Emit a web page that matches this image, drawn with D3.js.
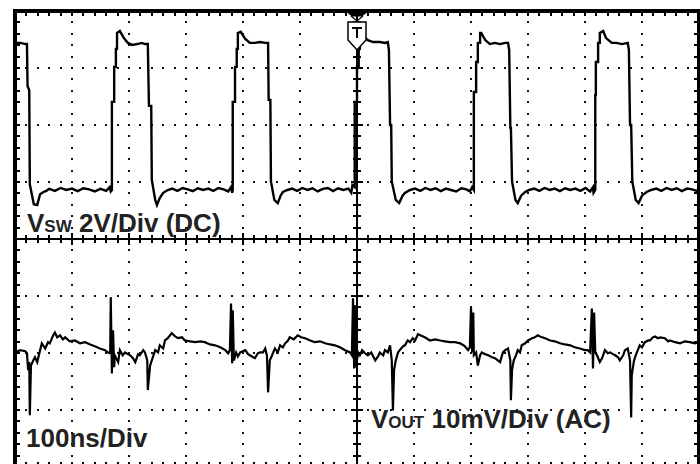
<!DOCTYPE html>
<html>
<head>
<meta charset="utf-8">
<script src="https://cdn.jsdelivr.net/npm/d3@7"></script>
<style>
  body { margin: 0; background: #fff; }
  svg { display: block; }
</style>
</head>
<body>
<div id="vis"></div>
<script>
// scope capture: switch node (top, 2V/div DC) and output ripple (bottom, 10mV/div AC), 100ns/div

// channel settings
var SW_VDIV = 2;      // V per div
var SW_POS = 0.86;    // ground marker position, div above centre
var OUT_VDIV = 10;    // mV per div
var OUT_POS = -1.9;   // trace position, div above centre

// graticule
var timeDomain = [-600, 600];   // ns, 12 div of 100ns, trigger at 0
var divDomain = [-4, 4];

// labels
var labelSw = ['V', 'SW', ' 2V/Div (DC)'];
var labelOut = ['V', 'OUT', ' 10mV/Div (AC)'];
var labelTime = '100ns/Div';

// V_SW trace [ns, V]
var swT = [-600,-590,-582,-579,-578,-575,-574,-567,-561,-556,-550,-545,
  -540,-530,-520,-510,-500,-490,-480,-470,-460,-450,-440,-434,-432,
  -430,-430,-426,-426,-423,-423,-421,-421,-416,-409,-402,-395,-385,-378,-372,-367,-365,-361,-360,-354,-351,-346,-340,-332,
  -324,-315,-306,-297,-288,-279,-270,-261,-252,-243,-234,-226,-221,-219,
  -218,-218,-214,-214,-211,-211,-209,-209,-204,-196,-188,-179,-170,-161,-156,-155,-152,-151,-145,-139,-134,-130,-122,
  -114,-105,-96,-87,-78,-69,-60,-51,-42,-33,-24,-15,-10,-8,
  -4,-4,0,0,3,3,5,5,9,14,19,28,40,49,54,56,58,60,61,68,74,80,84,93,
  102,111,120,129,138,147,156,165,174,183,192,198,202,
  205,205,209,209,212,212,216,216,218,225,233,242,251,260,265,267,269,270,272,278,282,288,295,302,
  311,320,329,338,347,356,365,374,383,392,401,409,414,415,
  418,418,419,419,423,423,426,426,432,437,447,455,465,475,477,479,481,483,489,494,500,508,516,
  525,534,543,552,561,570,579,588,596,600];
var swV = [5.16,5.16,5.12,5.12,3.65,3.5,0.2,-0.5,-0.53,-0.15,-0.07,-0.03,
  0.04,-0.03,0.07,0.0,0.05,-0.04,0.06,0.02,-0.05,0.04,-0.03,0.1,-0.05,
  0,3.09,3.09,4.32,4.32,4.95,4.95,5.51,5.58,5.33,5.16,5.09,5.12,5.16,5.12,5.12,2.95,2.95,0.35,-0.35,-0.53,-0.28,-0.1,0.0,
  0.05,-0.03,0.07,0.02,-0.04,0.06,0.0,0.05,-0.03,0.07,0.02,-0.05,0.1,-0.1,
  0,3.09,3.09,4.32,4.32,4.95,4.95,5.51,5.55,5.3,5.16,5.16,5.19,5.16,5.16,3.16,3.16,0.3,-0.35,-0.46,-0.2,-0.07,0.0,
  0.05,-0.03,0.07,0.0,0.06,-0.05,0.04,0.07,-0.04,0.06,0.0,0.05,-0.1,0.17,
  0.1,3.09,3.09,4.32,4.32,4.95,4.95,5.44,5.44,5.33,5.26,5.19,5.19,5.16,5.19,4.91,2.28,2.28,0.3,-0.35,-0.46,-0.2,-0.1,0.0,
  0.05,-0.03,0.07,0.0,0.06,-0.04,0.05,0.0,-0.05,0.06,0.02,-0.05,0.1,
  0,3.44,3.44,4.49,4.49,5.16,5.16,5.51,5.51,5.26,5.12,5.16,5.12,5.16,5.16,4.91,2.18,2.18,0.3,-0.35,-0.46,-0.2,-0.07,0.0,
  0.05,-0.03,0.07,0.0,0.05,-0.04,0.06,0.0,0.05,-0.03,0.07,-0.05,0.1,-0.1,
  0,3.33,3.33,4.49,4.49,5.16,5.16,5.51,5.58,5.33,5.16,5.16,5.12,5.16,4.91,2.28,2.28,0.3,-0.35,-0.46,-0.2,-0.07,0.0,
  0.05,-0.03,0.07,0.0,0.06,-0.04,0.05,0.02,-0.03,0.03];

// V_OUT trace [ns, mV]
var outT = [-600,-591,-582,-579,-577,-575,-574,-572,-568,-565,-561,-556,-553,-547,-542,-539,-533,-530,-526,-521,-516,-512,
  -504,-495,-486,-477,-468,-460,-451,-442,-437,-433,-432,-430,-428,-426,-425,-419,-416,-411,-407,-398,-393,-389,-384,-381,
  -375,-372,-368,-367,-363,-360,-354,-349,-346,-340,-337,-332,-325,-319,-314,-307,-302,-293,-284,-275,-267,-258,-249,-240,
  -231,-226,-223,-221,-219,-218,-216,-212,-209,-205,-196,-191,-188,-182,-179,-174,-170,-165,-161,-158,-156,-153,-149,-144,
  -139,-135,-130,-126,-121,-118,-111,-104,-98,-91,-82,-74,-65,-56,-47,-39,-30,-21,-12,-9,-7,-5,-4,-2,
  2,5,9,14,19,25,32,37,40,46,49,54,58,61,63,65,68,72,75,81,84,89,93,98,102,107,111,119,128,137,146,154,163,172,181,189,195,198,
  200,202,204,205,209,212,216,219,225,230,237,242,247,251,256,260,265,269,270,272,275,279,282,286,289,295,300,307,312,317,321,
  330,339,347,356,365,374,382,391,400,405,409,412,414,416,418,421,426,430,435,440,444,449,453,458,461,467,470,475,479,481,482,
  486,489,491,496,500,505,511,514,519,523,528,532,540,546,549,558,567,575,584,593,600];
var outV = [-0.9,-0.5,-0.7,-1.05,-4.0,-2.6,-11.9,-3.2,-2.3,-1.75,-2.6,-0.5,0.7,-0.2,0.9,0.7,2.1,2.6,1.75,2.1,1.4,1.75,
  1.05,1.2,0.7,0.9,0.5,0.2,-0.2,-0.5,-0.9,-1.05,8.8,-4.6,3.0,-3.5,-1.4,-2.6,-0.5,-1.4,-0.9,-1.4,-1.9,-2.6,-1.2,-1.4,
  -0.5,-0.9,-2.3,-7.5,-3.2,-2.3,-0.5,-0.9,0.35,-0.2,1.2,1.6,2.5,1.9,1.6,1.75,1.2,1.05,0.9,1.05,0.9,0.5,0.35,0,
  -0.5,-1.05,-0.5,7.7,-2.8,6.5,-2.3,-0.9,-1.6,-0.9,-0.5,-1.2,-1.4,-1.75,-1.9,-1.05,-0.9,-0.9,-0.2,-1.4,-7.9,-2.3,-1.4,-0.2,
  -0.9,0.35,0,0.7,1.2,1.75,1.4,2.1,1.75,1.6,1.2,0.9,1.05,0.7,0.5,0.35,0,-0.5,-0.9,-1.4,8.6,-3.7,7.4,-3.5,
  -0.9,-1.4,-0.5,-1.05,-1.4,-0.9,-2.3,-1.6,-0.9,-1.4,-0.5,-0.9,0.35,-2.3,-11.1,-4.0,-2.3,-0.9,-0.5,0.2,0.35,1.2,0.9,1.6,1.2,2.3,2.1,1.75,1.2,1.4,1.2,1.05,0.9,0.9,0.7,0.2,-0.5,0,
  7.0,-0.9,6.1,-1.4,-0.9,-3.2,-1.4,-0.9,-1.2,-1.4,-1.75,-1.9,-2.3,-2.6,-0.9,-0.5,-0.2,-2.3,-9.3,-4.0,-2.3,-1.4,-0.5,-0.9,0.35,0.7,1.2,1.6,1.75,2.1,1.9,
  1.6,1.2,1.05,0.7,0.5,0.35,0,-0.2,-0.5,-0.5,-0.9,6.8,-3.7,6.1,-0.9,-1.4,-2.6,-1.9,-0.5,-1.05,-0.9,-1.2,-1.4,-1.75,-2.3,-1.4,-0.5,-0.2,-2.3,-12.3,-4.9,
  -2.3,-1.4,-0.9,0.35,0,0.9,1.2,1.2,1.75,1.9,1.6,1.75,1.6,1.05,1.2,0.9,0.7,1.05,0.9,0.7,0.9];

var W = 700, H = 464;

svg = d3.select('#vis').append('svg')
  .attr('width', W)
  .attr('height', H);

svg.append('rect').attr('width', W).attr('height', H).attr('fill', '#fff');

var x = d3.scaleLinear().domain(timeDomain).range([15, 699]);
var yDiv = d3.scaleLinear().domain(divDomain).range([467, 11]);
var ySw = d3.scaleLinear()
  .domain([(divDomain[0] - SW_POS) * SW_VDIV, (divDomain[1] - SW_POS) * SW_VDIV])
  .range([467, 11]);
var yOut = d3.scaleLinear()
  .domain([(divDomain[0] - OUT_POS) * OUT_VDIV, (divDomain[1] - OUT_POS) * OUT_VDIV])
  .range([467, 11]);

var majorT = d3.range(-5, 6).map(function(i) { return i * 100; }).filter(function(t) { return t !== 0; });
var minorT = d3.range(-30, 31).map(function(i) { return i * 20; });
var majorD = [-3, -2, -1, 1, 2, 3];
var minorD = d3.range(-20, 21).map(function(i) { return i / 5; });

// dotted graticule
var grid = svg.append('g').attr('fill', '#111').attr('shape-rendering', 'crispEdges');
majorD.forEach(function(d) {
  grid.selectAll(null).data(minorT.slice(1, -1)).enter().append('rect')
    .attr('x', function(t) { return Math.round(x(t)) - 1; })
    .attr('y', Math.round(yDiv(d)) - 1)
    .attr('width', 2).attr('height', 2);
});
majorT.forEach(function(t) {
  grid.selectAll(null).data(minorD.slice(1, -1)).enter().append('rect')
    .attr('x', Math.round(x(t)) - 1)
    .attr('y', function(d) { return Math.round(yDiv(d)) - 1; })
    .attr('width', 2).attr('height', 2);
});

// centre crosshair with ticks
var axes = svg.append('g').attr('stroke', '#000').attr('shape-rendering', 'crispEdges');
axes.append('line')
  .attr('x1', x(timeDomain[0])).attr('x2', x(timeDomain[1]))
  .attr('y1', yDiv(0)).attr('y2', yDiv(0))
  .attr('stroke-width', 2);
axes.append('line')
  .attr('x1', x(0)).attr('x2', x(0))
  .attr('y1', yDiv(divDomain[1])).attr('y2', yDiv(divDomain[0]))
  .attr('stroke-width', 2);
axes.selectAll('.ht').data(minorT).enter().append('line')
  .attr('x1', function(t) { return x(t); }).attr('x2', function(t) { return x(t); })
  .attr('y1', function(t) { return yDiv(0) - (t % 100 === 0 ? 6 : 4); })
  .attr('y2', function(t) { return yDiv(0) + (t % 100 === 0 ? 6 : 4); })
  .attr('stroke-width', 2);
axes.selectAll('.vt').data(minorD).enter().append('line')
  .attr('y1', function(d) { return yDiv(d); }).attr('y2', function(d) { return yDiv(d); })
  .attr('x1', function(d) { return x(0) - (Math.abs(d % 1) < 1e-6 ? 6 : 4); })
  .attr('x2', function(d) { return x(0) + (Math.abs(d % 1) < 1e-6 ? 6 : 4); })
  .attr('stroke-width', 2);

// frame and edge ticks
var frame = svg.append('g').attr('stroke', '#000').attr('shape-rendering', 'crispEdges');
frame.append('rect')
  .attr('x', x(timeDomain[0])).attr('y', yDiv(divDomain[1]))
  .attr('width', x(timeDomain[1]) - x(timeDomain[0]))
  .attr('height', yDiv(divDomain[0]) - yDiv(divDomain[1]))
  .attr('fill', 'none').attr('stroke-width', 3.5);
frame.selectAll('.tt').data(minorT).enter().append('line')
  .attr('x1', function(t) { return x(t); }).attr('x2', function(t) { return x(t); })
  .attr('y1', yDiv(divDomain[1])).attr('y2', yDiv(divDomain[1]) + 5)
  .attr('stroke-width', 2);
frame.selectAll('.bt').data(minorT).enter().append('line')
  .attr('x1', function(t) { return x(t); }).attr('x2', function(t) { return x(t); })
  .attr('y1', yDiv(divDomain[0])).attr('y2', yDiv(divDomain[0]) - 5)
  .attr('stroke-width', 2);
frame.selectAll('.lt').data(minorD).enter().append('line')
  .attr('y1', function(d) { return yDiv(d); }).attr('y2', function(d) { return yDiv(d); })
  .attr('x1', x(timeDomain[0])).attr('x2', x(timeDomain[0]) + 5)
  .attr('stroke-width', 2);
frame.selectAll('.rt').data(minorD).enter().append('line')
  .attr('y1', function(d) { return yDiv(d); }).attr('y2', function(d) { return yDiv(d); })
  .attr('x1', x(timeDomain[1])).attr('x2', x(timeDomain[1]) - 5)
  .attr('stroke-width', 2);

// traces
var swLine = d3.line()
  .x(function(d, i) { return x(swT[i]); })
  .y(function(d, i) { return ySw(swV[i]); });
var outLine = d3.line()
  .x(function(d, i) { return x(outT[i]); })
  .y(function(d, i) { return yOut(outV[i]); });

svg.append('path').datum(swV)
  .attr('d', swLine)
  .attr('fill', 'none').attr('stroke', '#000').attr('stroke-width', 2.4)
  .attr('stroke-linejoin', 'miter');
svg.append('path').datum(outV)
  .attr('d', outLine)
  .attr('fill', 'none').attr('stroke', '#000').attr('stroke-width', 2.2)
  .attr('stroke-linejoin', 'miter');

// trigger marker
var tx = x(0), ty = yDiv(divDomain[1]);
var trig = svg.append('g').attr('stroke', '#000').attr('fill', 'none');
trig.append('path')
  .attr('d', 'M' + (tx - 10) + ',' + (ty + 1) + 'H' + (tx + 10) + 'L' + (tx + 5) + ',' + (ty + 5) + 'H' + (tx - 5) + 'Z')
  .attr('fill', '#000');
trig.append('path')
  .attr('d', 'M' + (tx - 6) + ',' + (ty + 5) + 'L' + tx + ',' + (ty + 10) + 'L' + (tx + 6) + ',' + (ty + 5))
  .attr('stroke-width', 1.2);
trig.append('path')
  .attr('d', 'M' + (tx - 9) + ',' + (ty + 11) + 'H' + (tx + 9) + 'V' + (ty + 29) + 'L' + tx + ',' + (ty + 39) + 'L' + (tx - 9) + ',' + (ty + 29) + 'Z')
  .attr('stroke-width', 1.5).attr('fill', '#fff');
trig.append('path')
  .attr('d', 'M' + (tx - 5) + ',' + (ty + 17) + 'H' + (tx + 5) + 'M' + tx + ',' + (ty + 17) + 'V' + (ty + 27))
  .attr('stroke-width', 2);
trig.append('line')
  .attr('x1', tx).attr('x2', tx).attr('y1', ty + 39).attr('y2', ty + 48)
  .attr('stroke-width', 2);

// labels
var font = '"Liberation Sans", Arial, sans-serif';
function label(parts, px, py) {
  var t = svg.append('text')
    .attr('x', px).attr('y', py)
    .attr('font-family', font).attr('font-weight', 'bold')
    .attr('font-size', 26).attr('fill', '#222');
  t.append('tspan').text(parts[0]);
  if (parts.length > 1) {
    t.append('tspan').attr('font-size', 17).text(parts[1]);
    t.append('tspan').text(parts[2]);
  }
  return t;
}
label(labelSw, 27, 232);
label(labelOut, 371, 428);
label([labelTime], 26, 447);
</script>
</body>
</html>
